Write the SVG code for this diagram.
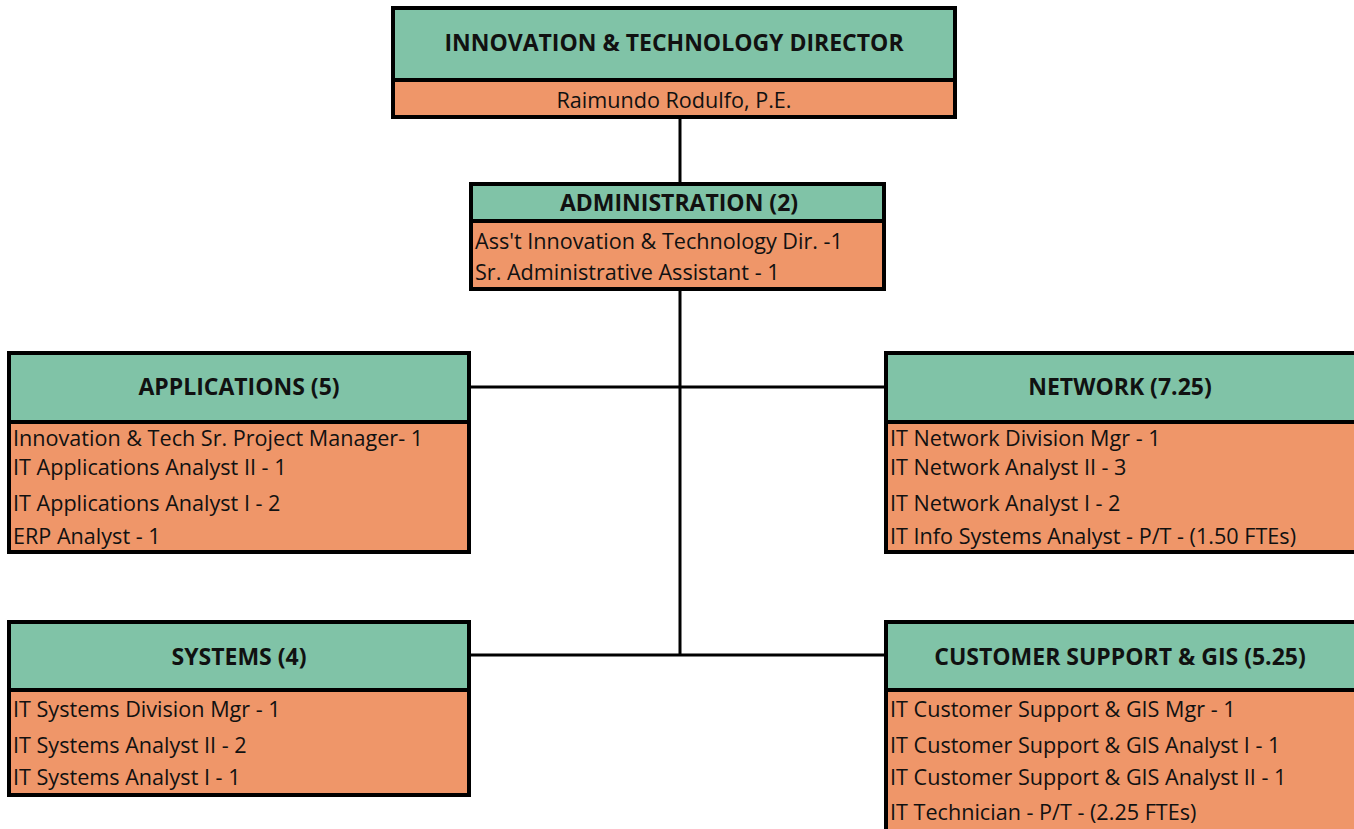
<svg xmlns="http://www.w3.org/2000/svg" width="1354" height="829" viewBox="0 0 1354 829">
<style>
.hd{fill:#80C3A7}
.bd{fill:#EF9669}
.bx{fill:none;stroke:#000;stroke-width:4}
.dv{stroke:#000;stroke-width:4}
.cn{stroke:#000;stroke-width:3;fill:none}
.h{font-family:"Open Sans","Liberation Sans",Arial,sans-serif;font-weight:bold;font-size:23px;fill:#111;text-anchor:middle}
.t{font-family:"Open Sans","Liberation Sans",Arial,sans-serif;font-size:21.6px;fill:#111}
</style>
<rect width="1354" height="829" fill="#fff"/>
<g id="connectors">
<line class="cn" x1="680" y1="119" x2="680" y2="182"/>
<line class="cn" x1="680" y1="291" x2="680" y2="656"/>
<line class="cn" x1="471" y1="387" x2="884" y2="387"/>
<line class="cn" x1="471" y1="655" x2="884" y2="655"/>
</g>
<g id="director">
<rect class="hd" x="393" y="8" width="562" height="72"/>
<rect class="bd" x="393" y="80" width="562" height="37"/>
<line class="dv" x1="393" y1="80" x2="955" y2="80"/>
<rect class="bx" x="393" y="8" width="562" height="109"/>
<text class="h" x="674" y="51">INNOVATION &amp; TECHNOLOGY DIRECTOR</text>
<text class="t" x="674" y="108" text-anchor="middle">Raimundo Rodulfo, P.E.</text>
</g>
<g id="administration">
<rect class="hd" x="471" y="184" width="413" height="37"/>
<rect class="bd" x="471" y="221" width="413" height="68"/>
<line class="dv" x1="471" y1="221" x2="884" y2="221"/>
<rect class="bx" x="471" y="184" width="413" height="105"/>
<text class="h" x="679" y="211">ADMINISTRATION (2)</text>
<text class="t" x="475" y="249">Ass't Innovation &amp; Technology Dir. -1</text>
<text class="t" x="475" y="280">Sr. Administrative Assistant - 1</text>
</g>
<g id="applications">
<rect class="hd" x="9" y="353" width="460" height="69"/>
<rect class="bd" x="9" y="422" width="460" height="130"/>
<line class="dv" x1="9" y1="422" x2="469" y2="422"/>
<rect class="bx" x="9" y="353" width="460" height="199"/>
<text class="h" x="239" y="395">APPLICATIONS (5)</text>
<text class="t" x="13" y="446">Innovation &amp; Tech Sr. Project Manager- 1</text>
<text class="t" x="13" y="475">IT Applications Analyst II - 1</text>
<text class="t" x="13" y="511">IT Applications Analyst I - 2</text>
<text class="t" x="13" y="544">ERP Analyst - 1</text>
</g>
<g id="network">
<rect class="hd" x="886" y="353" width="480" height="69"/>
<rect class="bd" x="886" y="422" width="480" height="130"/>
<line class="dv" x1="886" y1="422" x2="1366" y2="422"/>
<rect class="bx" x="886" y="353" width="480" height="199"/>
<text class="h" x="1120" y="395">NETWORK (7.25)</text>
<text class="t" x="890" y="446">IT Network Division Mgr - 1</text>
<text class="t" x="890" y="475">IT Network Analyst II - 3</text>
<text class="t" x="890" y="511">IT Network Analyst I - 2</text>
<text class="t" x="890" y="544">IT Info Systems Analyst - P/T - (1.50 FTEs)</text>
</g>
<g id="systems">
<rect class="hd" x="9" y="622" width="460" height="68"/>
<rect class="bd" x="9" y="690" width="460" height="105"/>
<line class="dv" x1="9" y1="690" x2="469" y2="690"/>
<rect class="bx" x="9" y="622" width="460" height="173"/>
<text class="h" x="239" y="665">SYSTEMS (4)</text>
<text class="t" x="13" y="717">IT Systems Division Mgr - 1</text>
<text class="t" x="13" y="753">IT Systems Analyst II - 2</text>
<text class="t" x="13" y="785">IT Systems Analyst I - 1</text>
</g>
<g id="customer-support">
<rect class="hd" x="886" y="622" width="480" height="68"/>
<rect class="bd" x="886" y="690" width="480" height="160"/>
<line class="dv" x1="886" y1="690" x2="1366" y2="690"/>
<rect class="bx" x="886" y="622" width="480" height="228"/>
<text class="h" x="1120" y="665">CUSTOMER SUPPORT &amp; GIS (5.25)</text>
<text class="t" x="890" y="717">IT Customer Support &amp; GIS Mgr - 1</text>
<text class="t" x="890" y="753">IT Customer Support &amp; GIS Analyst I - 1</text>
<text class="t" x="890" y="785">IT Customer Support &amp; GIS Analyst II - 1</text>
<text class="t" x="890" y="820">IT Technician - P/T - (2.25 FTEs)</text>
</g>
</svg>
